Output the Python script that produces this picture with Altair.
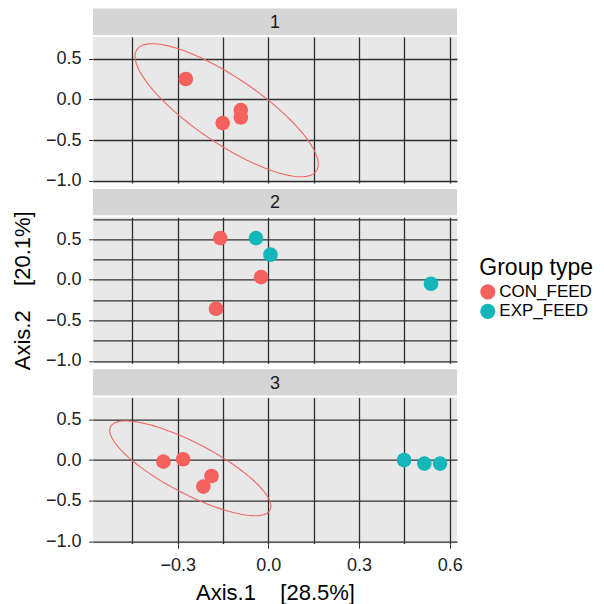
import altair as alt
import numpy as np
import pandas as pd

FONT = "Liberation Sans"
groups = ["CON_FEED", "EXP_FEED"]
colors = ["#F5625D", "#14B6BA"]
ellipse_color = "#F26A64"

# ---- data ----
p1_x = [-0.273, -0.151, -0.091, -0.091]
p1_y = [0.252, -0.291, -0.131, -0.222]
p1_g = ["CON_FEED", "CON_FEED", "CON_FEED", "CON_FEED"]

p2_x = [-0.159, -0.024, -0.173, -0.041, 0.007, 0.538]
p2_y = [0.514, 0.032, -0.358, 0.514, 0.309, -0.049]
p2_g = ["CON_FEED", "CON_FEED", "CON_FEED", "EXP_FEED", "EXP_FEED", "EXP_FEED"]

p3_x = [-0.347, -0.282, -0.188, -0.215, 0.449, 0.516, 0.568]
p3_y = [-0.020, 0.010, -0.197, -0.327, 0.000, -0.044, -0.044]
p3_g = ["CON_FEED"] * 4 + ["EXP_FEED"] * 3

# confidence ellipses: centre and two conjugate semi-axes (data units)
ell1_center = [-0.138, -0.133]
ell1_axis_a = [0.297, -0.747]
ell1_axis_b = [0.060, 0.338]
ell3_center = [-0.258, -0.102]
ell3_axis_a = [0.2666, -0.468]
ell3_axis_b = [0.0, 0.349]

x_grid = [-0.45, -0.3, -0.15, 0.0, 0.15, 0.3, 0.45, 0.6]
y_grid = [-1.0, -0.75, -0.5, -0.25, 0.0, 0.25, 0.5, 0.75]
x_domain = [-0.58, 0.624]
y_domain = [-1.03, 0.77]

NB = "\u00a0"
x_title = "Axis.1" + NB * 4 + "[28.5%]"
y_title = "Axis.2" + NB * 4 + "[20.1%]"

W, H = 364, 146
GRID = "#2e2e2e"

x_major = "abs(datum.value/0.3 - round(datum.value/0.3)) < 0.01"
y_major = "abs(datum.value*2 - round(datum.value*2)) < 0.01"


def ellipse_df(c, a, b):
    t = np.linspace(0, 2 * np.pi, 121)
    return pd.DataFrame({
        "x": c[0] + a[0] * np.cos(t) + b[0] * np.sin(t),
        "y": c[1] + a[1] * np.cos(t) + b[1] * np.sin(t),
        "i": np.arange(len(t)),
    })


def panel(label, xs, ys, gs, ell=None, bottom=False, show_ytitle=False):
    df = pd.DataFrame({"x": xs, "y": ys, "group": gs})
    xscale = alt.Scale(domain=x_domain, nice=False, zero=False)
    yscale = alt.Scale(domain=y_domain, nice=False, zero=False)
    xaxis_kw = dict(values=x_grid, grid=True, domain=False,
                    gridColor=GRID, gridWidth=1.3)
    if bottom:
        xaxis_kw.update(labels=True, ticks=True, tickSize=4.5,
                        tickColor="#333",
                        tickOpacity={"condition": {"test": x_major, "value": 1}, "value": 0},
                        labelExpr=f"{x_major} ? format(datum.value, '.1f') : ''",
                        labelFontSize=18, labelColor="#222", labelPadding=8.5,
                        titleFontSize=22, titlePadding=8, titleFontWeight="normal",
                        titleColor="#000")
        xenc = alt.X("x:Q", scale=xscale, axis=alt.Axis(**xaxis_kw), title=x_title)
    else:
        xaxis_kw.update(labels=False, ticks=False)
        xenc = alt.X("x:Q", scale=xscale, axis=alt.Axis(**xaxis_kw), title=None)
    yaxis = alt.Axis(values=y_grid, grid=True, domain=False, gridColor=GRID,
                     gridWidth=1.3, tickSize=4.5, tickColor="#333",
                     tickOpacity={"condition": {"test": y_major, "value": 1}, "value": 0},
                     labelExpr=f"{y_major} ? format(datum.value, '.1f') : ''",
                     labelFontSize=18, labelColor="#222", labelPadding=7.5,
                     titleFontSize=22, titlePadding=11, titleFontWeight="normal",
                     titleColor="#000")
    if show_ytitle:
        yenc = alt.Y("y:Q", scale=yscale, axis=yaxis, title=y_title)
    else:
        yenc = alt.Y("y:Q", scale=yscale, axis=yaxis, title=None)

    strip_df = pd.DataFrame({"label": [label]})
    strip = alt.Chart(strip_df).mark_rect(color="#D5D5D5").encode(
        x=alt.value(0), x2=alt.value(W), y=alt.value(-28.4), y2=alt.value(-2))
    strip_text = alt.Chart(strip_df).mark_text(
        fontSize=18, font=FONT, color="#1a1a1a", baseline="middle", align="center"
    ).encode(x=alt.value(W / 2), y=alt.value(-14), text="label:N")

    points = alt.Chart(df).mark_circle(size=215, opacity=1).encode(
        x=xenc, y=yenc,
        color=alt.Color("group:N", scale=alt.Scale(domain=groups, range=colors),
                        legend=alt.Legend(title="Group type", orient="none",
                                          legendX=386.3, legendY=220.3,
                                          titleFontSize=23, labelFontSize=17,
                                          titleFontWeight="normal", titleColor="#000",
                                          labelColor="#000", symbolType="circle",
                                          symbolSize=230, symbolStrokeWidth=0,
                                          titlePadding=3, rowPadding=1.5,
                                          labelOffset=3)))
    layers = [strip, strip_text]
    if ell is not None:
        edf = ellipse_df(*ell)
        layers.append(alt.Chart(edf).mark_line(color=ellipse_color, strokeWidth=1.1).encode(
            x=alt.X("x:Q", scale=xscale),
            y=alt.Y("y:Q", scale=yscale),
            order="i:Q"))
    layers.append(points)
    return alt.layer(*layers).properties(width=W, height=H)


c1 = panel("1", p1_x, p1_y, p1_g, ell=(ell1_center, ell1_axis_a, ell1_axis_b))
c2 = panel("2", p2_x, p2_y, p2_g, show_ytitle=True)
c3 = panel("3", p3_x, p3_y, p3_g, ell=(ell3_center, ell3_axis_a, ell3_axis_b), bottom=True)

chart = alt.vconcat(c1, c2, c3, spacing=34.3, bounds="flush").properties(
    padding={"left": 3, "top": 0, "right": 0, "bottom": 0}
).configure(font=FONT).configure_view(fill="#E8E8E8", stroke=None)

chart.save("out.html", embed_options={"renderer": "svg", "actions": False})
